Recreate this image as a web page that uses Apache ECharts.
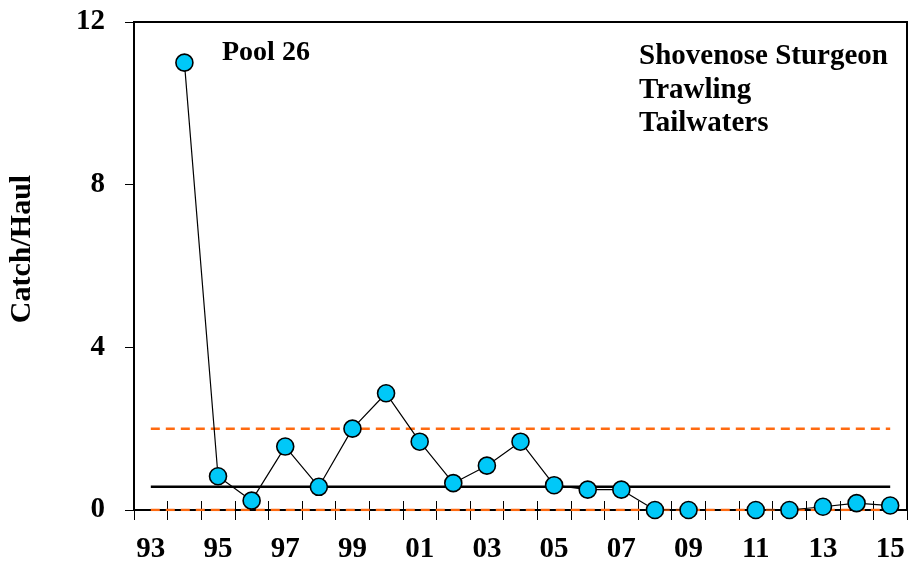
<!DOCTYPE html>
<html>
<head>
<meta charset="utf-8">
<title>Pool 26 – Shovenose Sturgeon Catch/Haul</title>
<script src="https://cdn.jsdelivr.net/npm/echarts@6/dist/echarts.min.js"></script>
<style>
  html, body { margin: 0; padding: 0; background: #ffffff; }
  #chart { width: 911px; height: 564px; }
</style>
</head>
<body>
<div id="chart"></div>
<script>
// Survey years (two-digit), 1993–2015
const years = ['93','94','95','96','97','98','99','00','01','02','03','04',
               '05','06','07','08','09','10','11','12','13','14','15'];

// Mean catch per haul by year (no sampling in 1993 and 2010)
const catchPerHaul = [null, 11.0, 0.83, 0.23, 1.56, 0.57, 2.0, 2.87, 1.68, 0.66, 1.09, 1.68,
                      0.61, 0.50, 0.50, 0, 0, null, 0, 0, 0.08, 0.17, 0.11];

// Reference levels
const centerLevel = 0.57;
const upperLevel = 2.0;
const lowerLevel = 0;

const yTicks = [0, 4, 8, 12];

const FONT = '"Liberation Serif", "Times New Roman", serif';
const ORANGE = '#FF6A10';

const flat = v => years.map(() => v);

const chart = echarts.init(document.getElementById('chart'), null, { renderer: 'canvas' });

chart.setOption({
  backgroundColor: '#ffffff',
  animation: false,
  grid: {
    left: 134, right: 4, top: 22, bottom: 53,
    show: true, borderColor: '#000', borderWidth: 2, backgroundColor: 'transparent'
  },
  title: [
    {
      text: 'Pool 26', left: 217, top: 34,
      textStyle: { fontFamily: FONT, fontWeight: 'bold', fontSize: 28, color: '#000' }
    },
    {
      text: 'Shovenose Sturgeon\nTrawling\nTailwaters', left: 634, top: 35,
      textStyle: { fontFamily: FONT, fontWeight: 'bold', fontSize: 29, color: '#000', lineHeight: 33.5 }
    }
  ],
  graphic: [
    {
      type: 'text', x: 22, y: 249, rotation: Math.PI / 2,
      style: {
        text: 'Catch/Haul', fill: '#000',
        font: 'bold 30px ' + FONT,
        textAlign: 'center', textVerticalAlign: 'middle'
      }
    }
  ],
  xAxis: [
    {
      type: 'category', data: years, boundaryGap: true,
      axisLine: { show: true, lineStyle: { color: '#000', width: 2 } },
      axisTick: { show: true, interval: 0, length: 10, lineStyle: { color: '#000', width: 1 } },
      axisLabel: {
        interval: 1, margin: 25, color: '#000',
        fontFamily: FONT, fontWeight: 'bold', fontSize: 29
      },
      splitLine: { show: false }
    },
    {
      // companion axis that draws the upper half of the crossing ticks
      type: 'category', data: years, boundaryGap: true, position: 'bottom',
      axisLine: { show: false },
      axisTick: { show: true, inside: true, interval: 0, length: 9, lineStyle: { color: '#000', width: 1 } },
      axisLabel: { show: false },
      splitLine: { show: false }
    }
  ],
  yAxis: {
    type: 'value', min: yTicks[0], max: yTicks[yTicks.length - 1], interval: 4,
    axisLine: { show: true, lineStyle: { color: '#000', width: 2 } },
    axisTick: { show: true, length: 9, lineStyle: { color: '#000', width: 1 } },
    axisLabel: {
      margin: 29, color: '#000',
      fontFamily: FONT, fontWeight: 'bold', fontSize: 29
    },
    splitLine: { show: false }
  },
  series: [
    {
      name: 'Upper', type: 'line', data: flat(upperLevel), symbol: 'none', z: 2,
      lineStyle: { color: ORANGE, width: 2.5, type: [9, 6] }
    },
    {
      name: 'Center', type: 'line', data: flat(centerLevel), symbol: 'none', z: 2,
      lineStyle: { color: '#000', width: 2.5 }
    },
    {
      name: 'Lower', type: 'line', data: flat(lowerLevel), symbol: 'none', z: 3,
      lineStyle: { color: ORANGE, width: 2.5, type: [9, 6] }
    },
    {
      name: 'Catch/Haul', type: 'line', data: catchPerHaul, connectNulls: false, z: 5,
      symbol: 'circle', symbolSize: 17,
      lineStyle: { color: '#000', width: 1.2 },
      itemStyle: { color: '#00C8F8', borderColor: '#000', borderWidth: 1.6 }
    }
  ]
});
</script>
</body>
</html>
